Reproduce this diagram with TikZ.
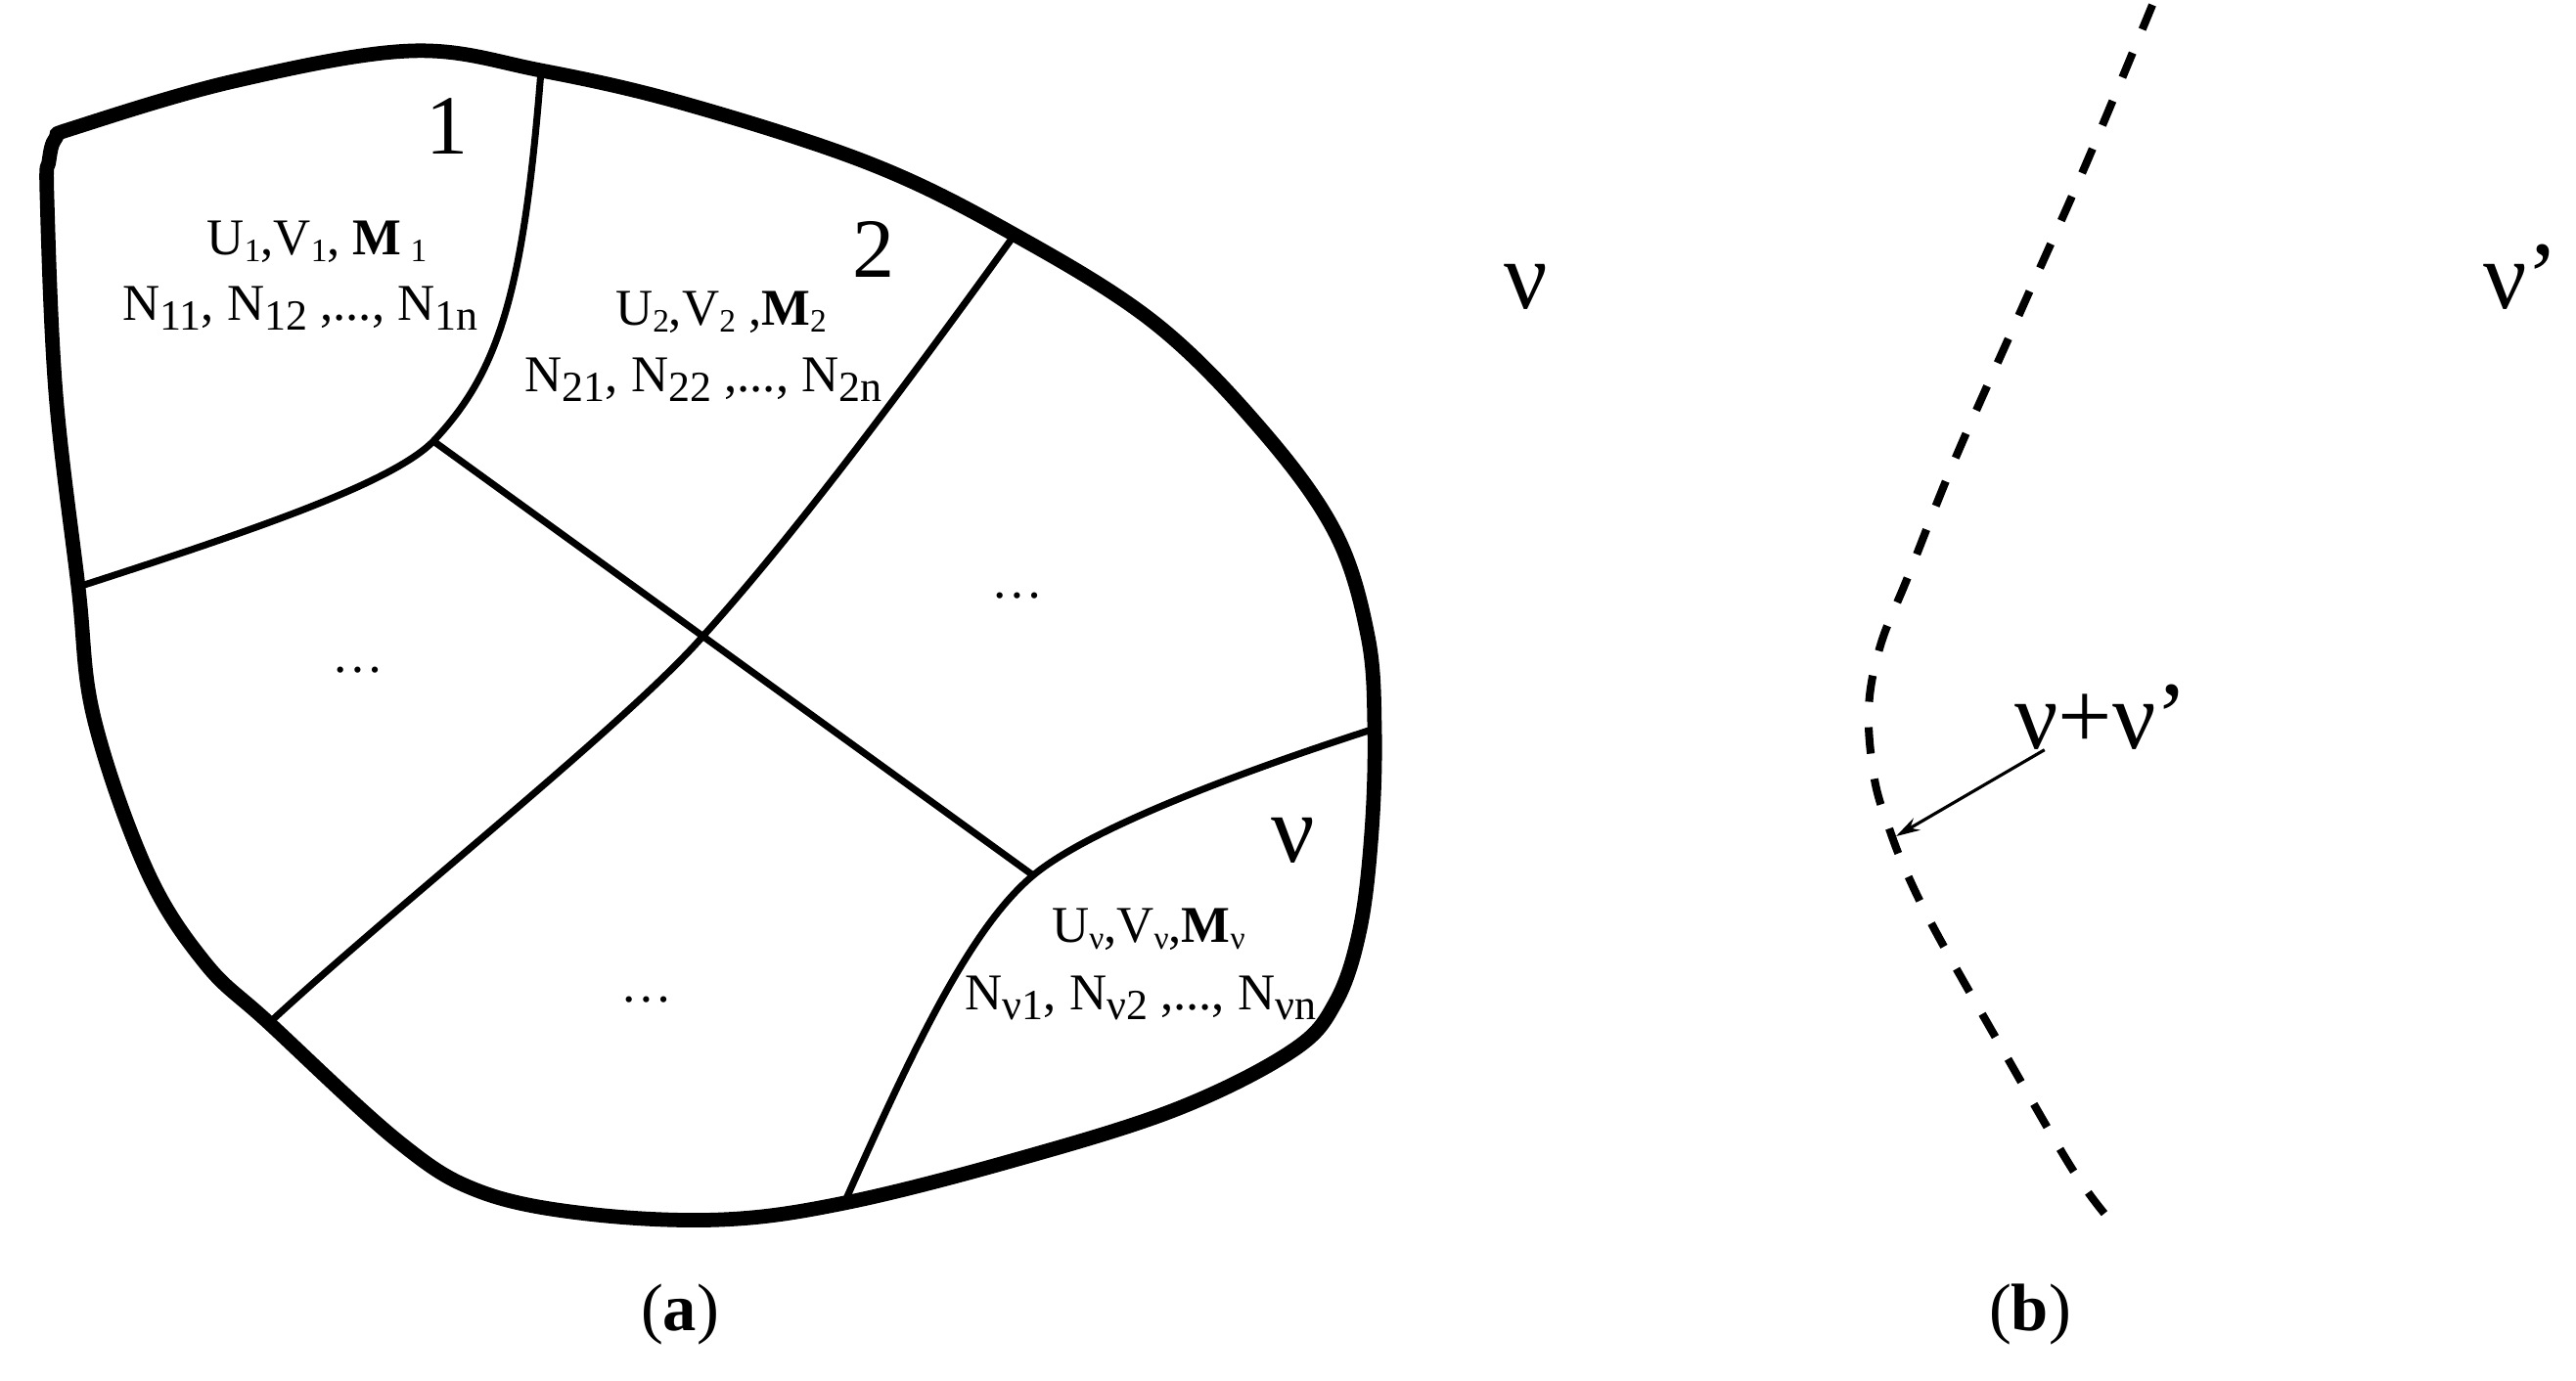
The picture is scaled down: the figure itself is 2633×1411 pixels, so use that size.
\documentclass[tikz,border=0pt]{standalone}
\usepackage{fontspec}
\setmainfont{Liberation Serif}
\usetikzlibrary{arrows.meta}

\newcommand{\ssub}[1]{\raisebox{-2pt}{\fontsize{9.5}{9.5}\selectfont #1}}
\newcommand{\lsub}[1]{\raisebox{-3pt}{\fontsize{12.5}{12.5}\selectfont #1}}

\begin{document}
\begin{tikzpicture}[x=0.01cm, y=-0.01cm,
  rim/.style={line width=4.2pt, line join=round},
  wall/.style={line width=2pt},
  cell/.style={font=\fontsize{15}{19}\selectfont, inner sep=0pt, anchor=base},
  tag/.style={font=\fontsize{24.5}{24.5}\selectfont, inner sep=0pt, anchor=base},
  nu/.style={font=\fontsize{28}{28}\selectfont, inner sep=0pt, anchor=base},
  subcap/.style={font=\fontsize{19.5}{19.5}\selectfont, inner sep=0pt, anchor=base},
  front/.style={line width=2.3pt, dash pattern=on 7.7pt off 7.4pt},
  >={Stealth[length=7pt, width=4pt]}
]
\useasboundingbox (0,0) rectangle (2633,1411);

% (a) junctions on the rim and inside
\coordinate (j1) at (553,72);
\coordinate (j2) at (1037,240);
\coordinate (jv) at (1405,745);
\coordinate (b0) at (863,1230);
\coordinate (l2) at (275,1046);
\coordinate (l1) at (80,600);
\coordinate (t1) at (443,451);
\coordinate (t2) at (1056,895);
\coordinate (x0) at (718,651);

% inner walls
\draw[wall] (j1) .. controls (535,300) and (510,380) .. (t1)
                 .. controls (400,495) and (250,545) .. (l1);
\draw[wall] (t1) -- (t2);
\draw[wall] (j2) .. controls (900,430) and (800,560) .. (x0)
                 .. controls (640,740) and (400,930) .. (l2);
\draw[wall] (jv) .. controls (1250,795) and (1110,850) .. (t2)
                 .. controls (990,950) and (930,1080) .. (b0);

% outer rim
\draw[rim] plot[smooth cycle, tension=0.6] coordinates {
  (57,141) (78,130) (239,83) (420,52) (j1) (700,106) (891,168) (j2)
  (1180,330) (1290,440) (1365,545) (1398,650) (jv) (1402,850)
  (1390,950) (1365,1025) (1320,1075) (1200,1135) (1030,1188)
  (b0) (737,1247) (600,1241) (490,1218) (407,1167) (l2) (210,985)
  (150,890) (96,734) (l1) (57,402) (48,200) (50,165)};

% cell labels
\node[tag] (n1) at (457,157) {1};
\node[tag] (n2) at (893,283) {2};
\node[nu]  (nv) at (1322,881) {ν};

\node[cell] (c1a) at (324,260) {U\ssub{1},V\ssub{1}, \textbf{M}\,\ssub{1}};
\node[cell] (c1b) at (307,327) {N\lsub{11}, N\lsub{12} ,..., N\lsub{1n}};
\node[cell] (c2a) at (737,332) {U\ssub{2},V\ssub{2} ,\textbf{M}\ssub{2}};
\node[cell] (c2b) at (719,400) {N\lsub{21}, N\lsub{22} ,..., N\lsub{2n}};
\node[cell] (cva) at (1174,963) {U\ssub{ν},V\ssub{ν},\textbf{M}\ssub{ν}};
\node[cell] (cvb) at (1166,1032) {N\lsub{ν1}, N\lsub{ν2} ,..., N\lsub{νn}};

\node[cell] (d1) at (366,687) {\ldots};
\node[cell] (d2) at (1040,611) {\ldots};
\node[cell] (d3) at (661,1024) {\ldots};

\node[subcap] (capa) at (695,1360) {(\textbf{a})};

% (b) the interface
\draw[front] plot[smooth, tension=0.6] coordinates {
  (2200,5) (2132,168) (2065,319) (1998,470) (1950,590) (1922,660)
  (1910,725) (1916,797) (1932,850) (1950,895) (1981,957) (2048,1075)
  (2116,1192) (2152,1242)};

\node[nu] (va) at (1560,315) {ν};
\node[nu] (vb) at (2577,315) {ν’};
\node[nu] (vab) at (2148,765) {ν+ν’};
\coordinate (hit) at (1938,855);
\draw[->, line width=0.9pt] (vab) -- (hit);

\node[subcap] (capb) at (2075,1360) {(\textbf{b})};
\end{tikzpicture}
\end{document}
